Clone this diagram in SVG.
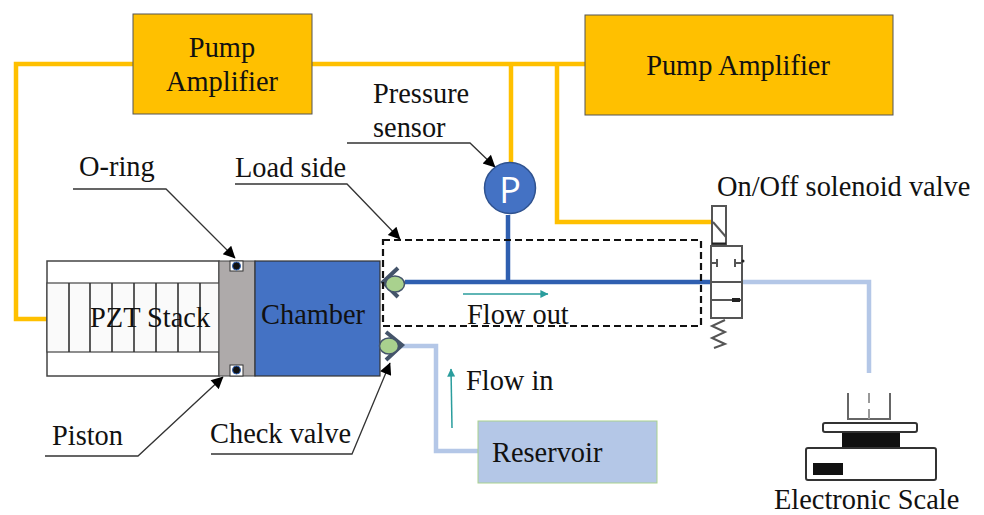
<svg xmlns="http://www.w3.org/2000/svg" width="984" height="515" viewBox="0 0 984 515">
<defs>
<marker id="ah" viewBox="0 0 10 10" refX="9.5" refY="5" markerWidth="14" markerHeight="12" markerUnits="userSpaceOnUse" orient="auto"><path d="M0,0L10,5L0,10Z" fill="#000"/></marker>
<marker id="tl" viewBox="0 0 10 10" refX="9.5" refY="5" markerWidth="9" markerHeight="8" markerUnits="userSpaceOnUse" orient="auto"><path d="M0,0L10,5L0,10Z" fill="#2a9d9d"/></marker>
</defs>
<style>
text{font-family:"Liberation Serif","Times New Roman",serif;font-size:28.4px;fill:#111}
.amp{fill:#ffc000;stroke:#555;stroke-width:1}
.y{fill:none;stroke:#ffc000;stroke-width:4.5}
.db{fill:none;stroke:#2f5fb0;stroke-width:4.5}
.lb{fill:none;stroke:#b4c7e7;stroke-width:4.5}
.lead{fill:none;stroke:#333;stroke-width:1.3;marker-end:url(#ah)}
.s{fill:none;stroke:#333;stroke-width:1.6}
.v{fill:none;stroke:#555;stroke-width:2}
.ball{fill:#a9d18e;stroke:#44546a;stroke-width:1.5}
.seat{fill:none;stroke:#44546a;stroke-width:4}
.teal{fill:none;stroke:#2a9d9d;stroke-width:1.5;marker-end:url(#tl)}
</style>
<g id="connectors">
<path class="y" d="M133,64H16V319H47"/>
<path class="y" d="M312,64H585"/>
<path class="y" d="M511,64V166"/>
<path class="y" d="M557,64V222H713"/>
<path class="db" d="M508,215V282"/>
<path class="db" d="M405,282H710"/>
<path class="lb" d="M741,282H869V373"/>
<path class="lb" d="M400,346H436V451H478"/>
<path class="lead" d="M73,189H166L235,258"/>
<path class="lead" d="M45,456H138L223,377"/>
<path class="lead" d="M235,184H347L400,239"/>
<path class="lead" d="M211,454H352L390,363"/>
<path class="lead" d="M347,143H470L495,167"/>
<path class="teal" d="M463,294H548"/>
<path class="teal" d="M452,428L451,369"/>
</g>
<g id="pump-amplifier-left"><rect class="amp" x="133" y="14" width="179" height="100"/><text x="222" y="57" text-anchor="middle">Pump</text><text x="222" y="91" text-anchor="middle">Amplifier</text></g>
<g id="pump-amplifier-right"><rect class="amp" x="585" y="15" width="308" height="100"/><text x="738" y="75" text-anchor="middle">Pump Amplifier</text></g>
<g id="pzt-stack">
<rect x="47" y="261" width="172" height="115" fill="#fff" stroke="#444" stroke-width="1.5"/>
<rect x="47" y="283" width="172" height="69" fill="#fafafa" stroke="#444" stroke-width="1.2"/>
<path class="s" d="M69,283V352M90,283V352M112,283V352M134,283V352M156,283V352M178,283V352M200,283V352"/>
<text x="90" y="327">PZT Stack</text>
</g>
<g id="piston">
<rect x="219" y="261" width="36" height="115" fill="#aeaaaa" stroke="#444" stroke-width="1"/>
<rect x="230" y="261" width="13" height="10" fill="#fff" stroke="#333"/><circle cx="236.500" cy="266" r="4" fill="#111" stroke="#2f5fb0"/>
<rect x="230" y="365" width="13" height="11" fill="#fff" stroke="#333"/><circle cx="236.500" cy="370" r="4" fill="#111" stroke="#2f5fb0"/>
</g>
<g id="chamber"><rect x="255" y="261" width="125" height="115" fill="#4472c4" stroke="#333" stroke-width="1.2"/><text x="261" y="324">Chamber</text></g>
<g id="check-valve-out"><path class="seat" d="M398,268L383,282L398,297"/><ellipse class="ball" cx="395" cy="284" rx="9.500" ry="8"/></g>
<g id="check-valve-in"><path class="seat" d="M386,332L402,345L386,360"/><ellipse class="ball" cx="389" cy="346" rx="9.500" ry="8"/></g>
<g id="load-side"><rect x="383" y="240" width="318" height="86" fill="none" stroke="#111" stroke-width="2.2" stroke-dasharray="7 4"/><text x="235" y="177">Load side</text></g>
<g id="pressure-sensor"><circle cx="510" cy="188" r="25.500" fill="#4472c4" stroke="#2f528f" stroke-width="1.5"/><text x="510" y="203" text-anchor="middle" style="font-family:'Open Sans','Liberation Sans',Arial,sans-serif;font-size:36px;fill:#fff">P</text></g>
<g id="solenoid-valve">
<rect x="712" y="206" width="14" height="38" fill="#fff" stroke="#555" stroke-width="2"/>
<path class="v" d="M713,222L726,237"/>
<path d="M712,243.500H726" stroke="#222" stroke-width="2" fill="none"/>
<rect x="711" y="246" width="31" height="72" fill="#fff" stroke="#555" stroke-width="2"/>
<path class="v" d="M711,282H742M711,300H742M711,263H717M717,259V267M735,263H742M735,259V267"/>
<path class="v" d="M725,320L712,326L725,332L712,338L725,344L714,348"/>
<circle cx="743" cy="261" r="1.500" fill="#222"/><rect x="732" y="298" width="8" height="4" fill="#222"/>
</g>
<g id="electronic-scale">
<path d="M848,393V419H890V393" fill="none" stroke="#666" stroke-width="2"/>
<path d="M869,393V403M869,409V419" fill="none" stroke="#999" stroke-width="2"/>
<rect x="823" y="423" width="94" height="9" rx="2" fill="#fff" stroke="#333" stroke-width="2"/>
<rect x="842" y="433" width="58" height="15" fill="#111"/>
<rect x="806" y="448" width="130" height="32" rx="2" fill="#fff" stroke="#333" stroke-width="2"/>
<rect x="813" y="463" width="30" height="12" fill="#111"/>
<text x="774" y="508.500">Electronic Scale</text>
</g>
<g id="reservoir"><rect x="478" y="421" width="179" height="62" fill="#b4c7e7" stroke="#a9d18e" stroke-width="1"/><text x="492" y="462">Reservoir</text></g>
<g id="labels">
<text x="79" y="176">O-ring</text>
<text x="373" y="103">Pressure</text>
<text x="373" y="137">sensor</text>
<text x="717" y="196">On/Off solenoid valve</text>
<text x="467" y="324">Flow out</text>
<text x="466" y="390">Flow in</text>
<text x="52" y="445">Piston</text>
<text x="210" y="443">Check valve</text>
</g>
</svg>
